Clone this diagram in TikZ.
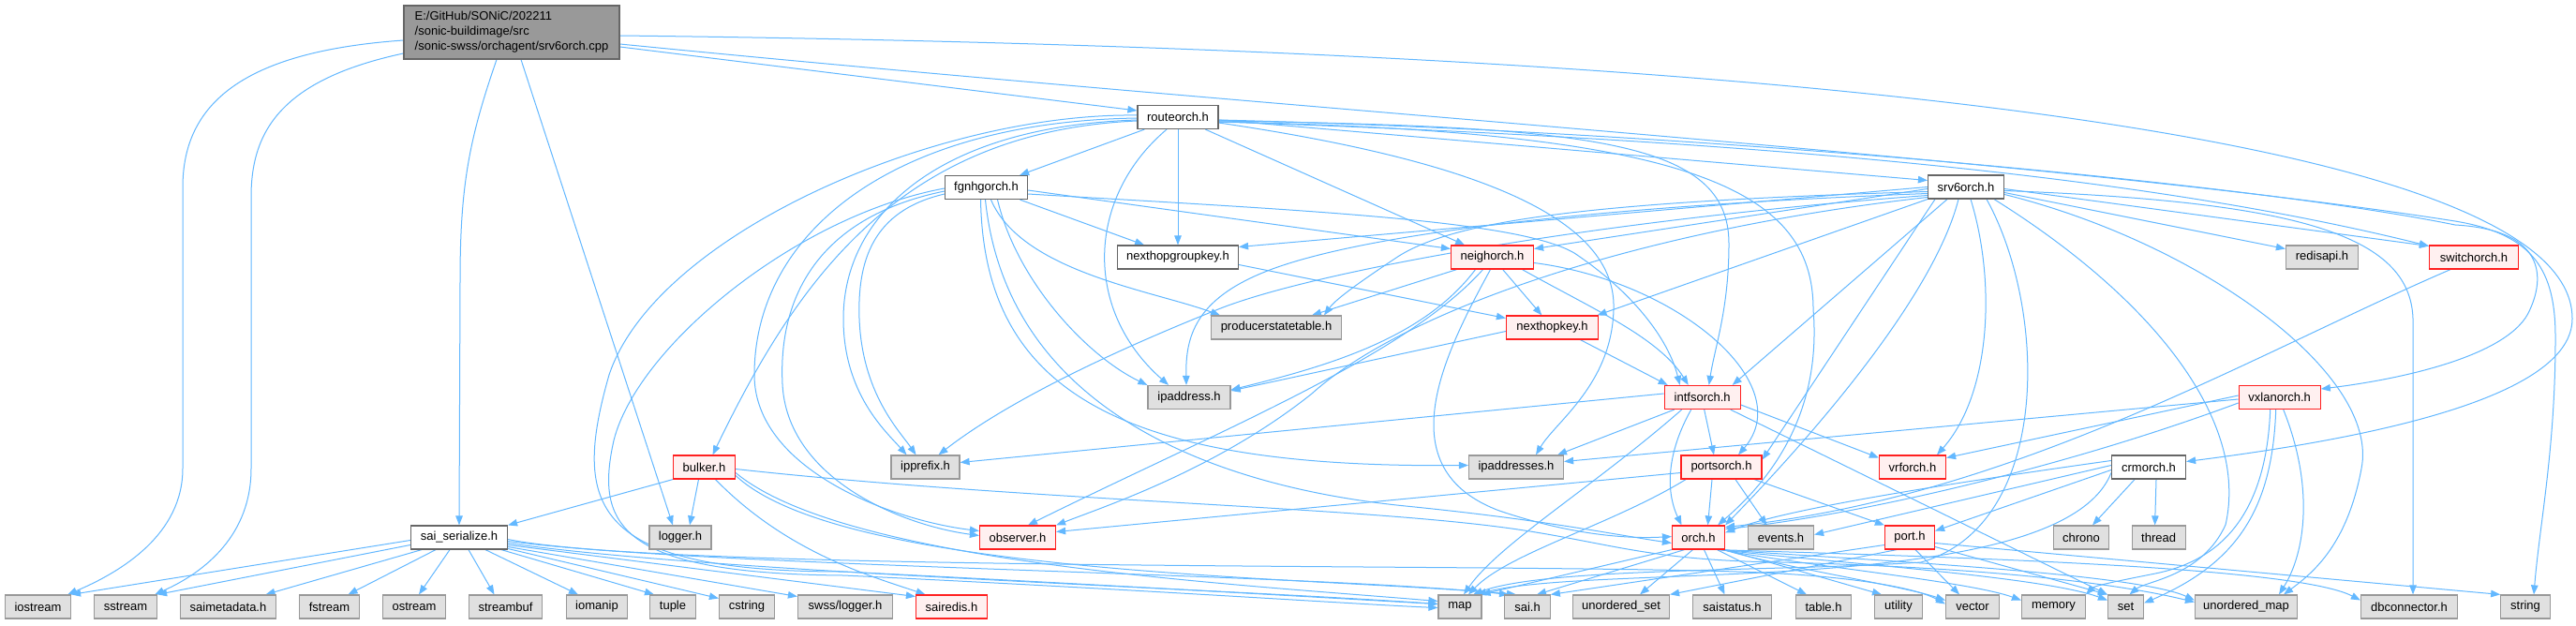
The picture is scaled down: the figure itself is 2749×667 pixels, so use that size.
\documentclass[tikz,border=0pt]{standalone}
\usepackage{fontspec}
\setmainfont{Liberation Sans}
\usetikzlibrary{arrows.meta}
\definecolor{edgec}{HTML}{63B8FF}
\definecolor{nbd}{HTML}{666666}
\definecolor{gbd}{HTML}{999999}
\definecolor{gbf}{HTML}{E0E0E0}
\definecolor{rbd}{HTML}{FF2020}
\definecolor{rbf}{HTML}{FFF0F0}
\definecolor{mbf}{HTML}{999999}
\pgfdeclarelayer{back}
\pgfdeclarelayer{bg}
\pgfsetlayers{back,bg,main}
\begin{document}
\begin{tikzpicture}[x=1pt,y=1pt,
  every node/.style={font=\fontsize{13}{16}\selectfont, inner sep=1pt, minimum height=25pt, line width=1.2pt, anchor=center},
  nbox/.style={draw=nbd, fill=white},
  gbox/.style={draw=gbd, fill=gbf},
  rbox/.style={draw=rbd, fill=rbf},
  mainbox/.style={draw=nbd, fill=mbf},
  lnk/.style={draw=edgec, line width=1pt, -{Triangle[length=10pt,width=7.5pt]}}
]
\begin{pgfonlayer}{back}
\fill[white] (0,0) rectangle (2749,-667);
\end{pgfonlayer}
\useasboundingbox (0,0) rectangle (2749,-667);

% ---------- nodes ----------
\node[mainbox, minimum width=230pt, minimum height=57pt, align=left] (mainf) at (546,-34.5) {E:/GitHub/SONiC/202211\\/sonic-buildimage/src\\/sonic-swss/orchagent/srv6orch.cpp};
\node[nbox, minimum width=86pt] (routeorch) at (1257,-125) {routeorch.h};
\node[nbox, minimum width=88pt] (fgnhg) at (1052.5,-200) {fgnhgorch.h};
\node[nbox, minimum width=81pt] (srv6) at (2098,-199.5) {srv6orch.h};
\node[nbox, minimum width=129pt] (nhgk) at (1257,-274.5) {nexthopgroupkey.h};
\node[rbox, minimum width=88pt] (neighorch) at (1592.5,-274.5) {neighorch.h};
\node[gbox, minimum width=77pt] (redisapi) at (2478,-274.5) {redisapi.h};
\node[rbox, minimum width=95pt] (switchorch) at (2640,-274.5) {switchorch.h};
\node[gbox, minimum width=139pt] (pst) at (1362,-349.5) {producerstatetable.h};
\node[rbox, minimum width=98pt] (nhk) at (1656.5,-349.5) {nexthopkey.h};
\node[gbox, minimum width=88pt] (ipaddress) at (1269,-424) {ipaddress.h};
\node[rbox, minimum width=81pt] (intfsorch) at (1816.7,-424) {intfsorch.h};
\node[rbox, minimum width=87pt] (vxlan) at (2432.7,-424) {vxlanorch.h};
\node[rbox, minimum width=66pt] (bulker) at (751.5,-498.5) {bulker.h};
\node[gbox, minimum width=73pt] (ipprefix) at (987.5,-498.5) {ipprefix.h};
\node[gbox, minimum width=101pt] (ipaddresses) at (1618,-498.5) {ipaddresses.h};
\node[rbox, minimum width=86pt] (portsorch) at (1837,-498.5) {portsorch.h};
\node[rbox, minimum width=71pt] (vrforch) at (2041,-498.5) {vrforch.h};
\node[nbox, minimum width=79pt] (crmorch) at (2293,-498.5) {crmorch.h};
\node[nbox, minimum width=103pt] (saiser) at (490,-573.5) {sai\_serialize.h};
\node[gbox, minimum width=66pt] (logger) at (726,-573.5) {logger.h};
\node[rbox, minimum width=81pt] (observer) at (1086,-573.5) {observer.h};
\node[rbox, minimum width=56pt] (orch) at (1812.5,-573.5) {orch.h};
\node[gbox, minimum width=70pt] (events) at (1900.5,-573.5) {events.h};
\node[rbox, minimum width=53pt] (port) at (2038,-573.5) {port.h};
\node[gbox, minimum width=59pt] (chrono) at (2221,-573.5) {chrono};
\node[gbox, minimum width=57pt] (thread) at (2303.6,-573.5) {thread};
\node[gbox, minimum width=70pt] (iostream) at (40.5,-647.5) {iostream};
\node[gbox, minimum width=67pt] (sstream) at (134,-647.5) {sstream};
\node[gbox, minimum width=102pt] (saimeta) at (243.5,-647.5) {saimetadata.h};
\node[gbox, minimum width=64pt] (fstream) at (351.5,-647.5) {fstream};
\node[gbox, minimum width=67pt] (ostream) at (442,-647.5) {ostream};
\node[gbox, minimum width=78pt] (streambuf) at (539.5,-647.5) {streambuf};
\node[gbox, minimum width=65pt] (iomanip) at (637,-647.5) {iomanip};
\node[gbox, minimum width=48.5pt] (tuple) at (718,-647.5) {tuple};
\node[gbox, minimum width=59pt] (cstring) at (797,-647.5) {cstring};
\node[gbox, minimum width=101pt] (swsslogger) at (902,-647.5) {swss/logger.h};
\node[rbox, minimum width=76pt] (sairedis) at (1015.5,-647.5) {sairedis.h};
\node[gbox, minimum width=46pt] (nmap) at (1558,-647.5) {map};
\node[gbox, minimum width=48.5pt] (saih) at (1630,-647.5) {sai.h};
\node[gbox, minimum width=103pt] (uset) at (1730,-647.5) {unordered\_set};
\node[gbox, minimum width=84pt] (saistatus) at (1848.5,-647.5) {saistatus.h};
\node[gbox, minimum width=59pt] (table) at (1946,-647.5) {table.h};
\node[gbox, minimum width=51pt] (utility) at (2026,-647.5) {utility};
\node[gbox, minimum width=57pt] (nvector) at (2105,-647.5) {vector};
\node[gbox, minimum width=68pt] (memory) at (2191.5,-647.5) {memory};
\node[gbox, minimum width=38pt] (nset) at (2268.5,-647.5) {set};
\node[gbox, minimum width=109pt] (umap) at (2397,-647.5) {unordered\_map};
\node[gbox, minimum width=103pt] (dbconn) at (2571,-647.5) {dbconnector.h};
\node[gbox, minimum width=52.5pt] (nstring) at (2695,-647.5) {string};

% ---------- edges ----------
\begin{pgfonlayer}{bg}
% main file
\draw[lnk] ([yshift=-8.5pt]mainf.west) .. controls (260,-55) and (195,-110) .. (195,-200) -- (195,-500) .. controls (195,-570) and (130,-610) .. ([xshift=-4pt]iostream.north east);
\draw[lnk] ([yshift=-22.5pt]mainf.west) .. controls (300,-85) and (268,-140) .. (268,-210) -- (268,-500) .. controls (268,-570) and (220,-610) .. ([xshift=-3pt]sstream.north east);
\draw[lnk] ([xshift=-16pt]mainf.south) .. controls (500,-150) and (491,-200) .. (491,-300) -- (saiser.north);
\draw[lnk] ([xshift=10pt]mainf.south) -- ([xshift=-8pt]logger.north);
\draw[lnk] ([yshift=-15.5pt]mainf.east) -- ([yshift=7pt]routeorch.west);
\draw[lnk] ([yshift=-3.5pt]mainf.east) .. controls (1700,-50) and (2745,-120) .. (2745,-340) .. controls (2745,-420) and (2550,-465) .. ([yshift=6pt]crmorch.east);
\draw[lnk] ([yshift=-12.5pt]mainf.east) .. controls (1400,-120) and (2200,-170) .. (2620,-236) .. controls (2705,-250) and (2727,-290) .. (2727,-360) .. controls (2727,-480) and (2710,-560) .. ([xshift=9pt]nstring.north);

% routeorch.h
\draw[lnk] (routeorch) -- (fgnhg);
\draw[lnk] (routeorch) -- (nhgk);
\draw[lnk] (routeorch) -- (neighorch);
\draw[lnk] ([yshift=-3pt]routeorch.east) -- ([yshift=7pt]srv6.west);
\draw[lnk] ([yshift=-5pt]routeorch.east) .. controls (1900,-150) and (2300,-190) .. ([yshift=12pt]switchorch.west);
\draw[lnk] ([yshift=-3pt]routeorch.east) .. controls (1800,-140) and (2400,-195) .. (2620,-240) .. controls (2710,-245) and (2718,-290) .. (2700,-330) .. controls (2680,-380) and (2560,-405) .. ([yshift=9pt]vxlan.east);
\draw[lnk] ([yshift=-4pt]routeorch.east) .. controls (1700,-135) and (1845,-150) .. (1845,-260) .. controls (1845,-330) and (1830,-370) .. ([xshift=7pt]intfsorch.north);
\draw[lnk] ([yshift=-5pt]routeorch.east) .. controls (1800,-140) and (1935,-200) .. (1935,-330) .. controls (1945,-450) and (1880,-520) .. ([xshift=-8pt]orch.north east);
\draw[lnk] ([xshift=-12pt]routeorch.south) .. controls (1160,-210) and (1155,-330) .. ([xshift=-22pt]ipaddress.north);
\draw[lnk] ([yshift=-6pt]routeorch.east) .. controls (1600,-175) and (1725,-240) .. (1722,-330) .. controls (1720,-410) and (1660,-450) .. ([xshift=21pt]ipaddresses.north);
\draw[lnk] ([yshift=-3pt]routeorch.west) .. controls (1000,-135) and (900,-230) .. (900,-340) .. controls (900,-420) and (945,-460) .. ([xshift=-20pt]ipprefix.north);
\draw[lnk] ([yshift=-1pt]routeorch.west) .. controls (950,-130) and (805,-250) .. (805,-400) .. controls (805,-500) and (950,-555) .. ([yshift=7pt]observer.west);
\draw[lnk] ([yshift=-4pt]routeorch.west) .. controls (960,-140) and (850,-300) .. ([xshift=9pt]bulker.north);
\draw[lnk] ([yshift=2pt]routeorch.west) .. controls (1000,-120) and (700,-250) .. (650,-400) .. controls (610,-540) and (630,-610) .. (900,-610) .. controls (1200,-625) and (1450,-640) .. ([yshift=3pt]nmap.west);

% fgnhgorch.h
\draw[lnk] (fgnhg) -- (nhgk);
\draw[lnk] ([xshift=5pt]fgnhg.south) .. controls (1090,-290) and (1230,-310) .. ([xshift=-60pt]pst.north);
\draw[lnk] ([yshift=-3pt]fgnhg.east) -- ([yshift=9pt]neighorch.west);
\draw[lnk] ([yshift=-7pt]fgnhg.east) .. controls (1400,-225) and (1620,-235) .. (1680,-270) .. controls (1740,-310) and (1780,-360) .. ([xshift=-24pt]intfsorch.north);
\draw[lnk] ([xshift=12pt]fgnhg.south) .. controls (1085,-300) and (1160,-380) .. (ipaddress.north west);
\draw[lnk] ([xshift=-6pt]fgnhg.south) .. controls (1050,-420) and (1200,-500) .. ([yshift=2pt]ipaddresses.west);
\draw[lnk] ([xshift=-1pt]fgnhg.south) .. controls (1075,-440) and (1300,-520) .. (1500,-540) .. controls (1650,-555) and (1720,-570) .. ([yshift=-6pt]orch.west);
\draw[lnk] ([yshift=-7pt]fgnhg.west) .. controls (930,-225) and (915,-280) .. (917,-340) .. controls (920,-420) and (960,-460) .. ([xshift=-10pt]ipprefix.north);
\draw[lnk] ([yshift=-4pt]fgnhg.west) .. controls (880,-230) and (830,-310) .. (835,-410) .. controls (840,-510) and (960,-560) .. ([yshift=2pt]observer.west);
\draw[lnk] ([yshift=-1pt]fgnhg.west) .. controls (850,-230) and (680,-370) .. (655,-470) .. controls (635,-560) and (660,-612) .. (900,-614) .. controls (1200,-628) and (1450,-645) .. ([yshift=-1pt]nmap.west);

% srv6orch.h
\draw[lnk] (srv6.west) -- ([yshift=11pt]nhgk.east);
\draw[lnk] ([yshift=-2pt]srv6.west) -- ([yshift=9pt]neighorch.east);
\draw[lnk] ([yshift=-5pt]srv6.west) .. controls (1700,-215) and (1550,-235) .. (1490,-275) .. controls (1445,-305) and (1425,-320) .. ([xshift=51pt]pst.north);
\draw[lnk] ([yshift=-7pt]srv6.west) .. controls (1700,-220) and (1450,-250) .. (1350,-290) .. controls (1275,-320) and (1265,-360) .. ([xshift=-3pt]ipaddress.north);
\draw[lnk] ([yshift=-9pt]srv6.west) .. controls (1700,-235) and (1400,-290) .. (1300,-330) .. controls (1150,-390) and (1060,-440) .. ([xshift=14pt]ipprefix.north);
\draw[lnk] ([yshift=-11pt]srv6.west) .. controls (1750,-245) and (1500,-330) .. (1400,-420) .. controls (1300,-500) and (1180,-540) .. (observer.north east);
\draw[lnk] (srv6.south west) -- ([xshift=48pt]nhk.north);
\draw[lnk] ([xshift=-20pt]srv6.south) -- ([xshift=32pt]intfsorch.north);
\draw[lnk] ([xshift=-33pt]srv6.south) -- ([yshift=8pt]portsorch.east);
\draw[lnk] ([xshift=-8pt]srv6.south) .. controls (2060,-330) and (1900,-500) .. (orch.north east);
\draw[lnk] ([xshift=5pt]srv6.south) .. controls (2130,-300) and (2125,-420) .. ([xshift=26pt]vrforch.north);
\draw[lnk] ([xshift=22pt]srv6.south) .. controls (2185,-330) and (2190,-560) .. (2050,-600) .. controls (1900,-610) and (1650,-605) .. ([xshift=14pt]nmap.north);
\draw[lnk] ([xshift=30pt]srv6.south) .. controls (2300,-320) and (2400,-450) .. (2375,-560) .. controls (2350,-615) and (2290,-620) .. ([xshift=4pt]nset.north);
\draw[lnk] ([yshift=-8pt]srv6.east) .. controls (2350,-260) and (2540,-400) .. (2520,-500) .. controls (2505,-580) and (2470,-610) .. ([xshift=40pt]umap.north);
\draw[lnk] ([yshift=-4pt]srv6.east) .. controls (2450,-215) and (2572,-250) .. (2575,-340) -- ([xshift=4pt]dbconn.north);
\draw[lnk] ([yshift=-6pt]srv6.east) -- ([yshift=9pt]redisapi.west);
\draw[lnk] ([yshift=-2pt]srv6.east) -- ([yshift=12pt]switchorch.west);

% neighorch.h
\draw[lnk] ([xshift=-38pt]neighorch.south) -- ([xshift=38pt]pst.north);
\draw[lnk] ([xshift=-18pt]neighorch.south) .. controls (1520,-360) and (1420,-390) .. ([yshift=8pt]ipaddress.east);
\draw[lnk] ([xshift=-10pt]neighorch.south) .. controls (1500,-380) and (1300,-460) .. ([xshift=11pt]observer.north);
\draw[lnk] ([xshift=-2pt]neighorch.south) .. controls (1540,-380) and (1480,-500) .. (1600,-545) .. controls (1680,-572) and (1740,-575) .. ([yshift=1pt]orch.west);
\draw[lnk] (neighorch) -- (nhk);
\draw[lnk] ([xshift=32pt]neighorch.south) .. controls (1700,-330) and (1770,-360) .. ([xshift=-15pt]intfsorch.north);
\draw[lnk] ([yshift=-6pt]neighorch.east) .. controls (1790,-300) and (1920,-410) .. ([xshift=18pt]portsorch.north);

% nexthopgroupkey.h, nexthopkey.h
\draw[lnk] ([yshift=-8pt]nhgk.east) -- ([yshift=10pt]nhk.west);
\draw[lnk] ([yshift=-4pt]nhk.west) -- ([yshift=7pt]ipaddress.east);
\draw[lnk] ([xshift=30pt]nhk.south) -- ([xshift=-37pt]intfsorch.north);

% intfsorch.h
\draw[lnk] ([yshift=4pt]intfsorch.west) -- ([yshift=5pt]ipprefix.east);
\draw[lnk] ([xshift=-30pt]intfsorch.south) -- ([xshift=44pt]ipaddresses.north);
\draw[lnk] ([xshift=-22pt]intfsorch.south) .. controls (1700,-520) and (1600,-580) .. ([xshift=4pt]nmap.north);
\draw[lnk] ([xshift=-12pt]intfsorch.south) .. controls (1775,-490) and (1780,-530) .. ([xshift=-18pt]orch.north);
\draw[lnk] ([xshift=2pt]intfsorch.south) -- ([xshift=-8pt]portsorch.north);
\draw[lnk] ([yshift=-8pt]intfsorch.east) -- ([yshift=10pt]vrforch.west);
\draw[lnk] ([xshift=30pt]intfsorch.south) -- (nset.north west);

% portsorch.h
\draw[lnk] ([yshift=-6pt]portsorch.west) -- ([yshift=6pt]observer.east);
\draw[lnk] ([xshift=-38pt]portsorch.south) .. controls (1720,-560) and (1610,-590) .. ([xshift=9pt]nmap.north);
\draw[lnk] ([xshift=-10pt]portsorch.south) -- ([xshift=10pt]orch.north);
\draw[lnk] ([xshift=15pt]portsorch.south) -- ([xshift=-15pt]events.north);
\draw[lnk] ([xshift=35pt]portsorch.south) -- (port.north west);

% orch.h
\draw[lnk] (orch.south west) -- ([xshift=-1pt]nmap.north east);
\draw[lnk] ([xshift=-15pt]orch.south) -- ([xshift=10pt]saih.north);
\draw[lnk] ([xshift=-6pt]orch.south) -- ([xshift=20pt]uset.north);
\draw[lnk] ([xshift=6pt]orch.south) -- ([xshift=-8pt]saistatus.north);
\draw[lnk] ([xshift=20pt]orch.south) -- ([xshift=-18pt]table.north);
\draw[lnk] (orch.south east) -- ([xshift=-18pt]utility.north);
\draw[lnk] ([xshift=-2pt]orch.south east) .. controls (1900,-605) and (2030,-625) .. ([yshift=7pt]nvector.west);
\draw[lnk] ([xshift=-4pt]orch.south east) .. controls (1920,-603) and (2100,-620) .. ([yshift=7pt]memory.west);
\draw[lnk] ([xshift=-6pt]orch.south east) .. controls (1950,-600) and (2180,-615) .. ([yshift=7pt]nset.west);
\draw[lnk] ([xshift=-7pt]orch.south east) .. controls (2000,-598) and (2280,-612) .. ([yshift=7pt]umap.west);
\draw[lnk] ([xshift=-8pt]orch.south east) .. controls (2100,-595) and (2450,-605) .. ([yshift=7pt]dbconn.west);

% port.h
\draw[lnk] ([yshift=-8pt]port.west) -- (saih.north east);
\draw[lnk] ([xshift=-14pt]port.south) -- (uset.north east);
\draw[lnk] ([xshift=6pt]port.south) -- ([xshift=-14pt]nvector.north);
\draw[lnk] ([yshift=-10pt]port.east) -- (nset.north west);
\draw[lnk] ([yshift=-6pt]port.east) -- (nstring.north west);

% crmorch.h
\draw[lnk] ([xshift=-15pt]crmorch.south) -- ([xshift=12pt]chrono.north);
\draw[lnk] ([xshift=8pt]crmorch.south) -- ([xshift=-4pt]thread.north);
\draw[lnk] ([yshift=7pt]crmorch.west) .. controls (2050,-520) and (1900,-545) .. ([yshift=5pt]orch.east);
\draw[lnk] ([yshift=2pt]crmorch.west) -- ([yshift=3pt]events.east);
\draw[lnk] ([yshift=-3pt]crmorch.west) -- ([yshift=7pt]port.east);
\draw[lnk] ([yshift=-6pt]crmorch.west) .. controls (2200,-640) and (1700,-600) .. ([xshift=18pt]nmap.north);

% vxlanorch.h
\draw[lnk] ([yshift=2pt]vxlan.west) -- ([yshift=10pt]vrforch.east);
\draw[lnk] ([yshift=-2pt]vxlan.west) -- ([yshift=6pt]ipaddresses.east);
\draw[lnk] ([yshift=-6pt]vxlan.west) .. controls (2200,-500) and (1980,-550) .. ([yshift=9pt]orch.east);
\draw[lnk] ([xshift=-4pt]vxlan.south) .. controls (2425,-540) and (2390,-600) .. ([yshift=4pt]nset.east);
\draw[lnk] ([xshift=4pt]vxlan.south) .. controls (2470,-520) and (2460,-590) .. ([xshift=35pt]umap.north);
\draw[lnk] ([xshift=-10pt]vxlan.south) .. controls (2418,-560) and (2360,-600) .. (2300,-612) .. controls (2260,-620) and (2235,-625) .. (memory.north east);

% switchorch.h
\draw[lnk] ([xshift=-25pt]switchorch.south) .. controls (2400,-380) and (2150,-530) .. ([yshift=11pt]orch.east);

% bulker.h
\draw[lnk] (bulker.south west) -- (saiser.north east);
\draw[lnk] ([xshift=-6pt]bulker.south) -- ([xshift=10pt]logger.north);
\draw[lnk] ([xshift=12pt]bulker.south) .. controls (840,-590) and (930,-615) .. ([xshift=-28pt]sairedis.north);
\draw[lnk] ([yshift=-6pt]bulker.east) .. controls (900,-600) and (1300,-622) .. ([yshift=6pt]nmap.west);
\draw[lnk] ([yshift=-9pt]bulker.east) .. controls (900,-615) and (1400,-615) .. ([xshift=-12pt]saih.north);
\draw[lnk] ([yshift=-2pt]bulker.east) .. controls (1100,-535) and (1450,-540) .. (1620,-565) .. controls (1720,-580) and (1760,-598) .. (1900,-600) .. controls (2100,-605) and (2250,-620) .. ([yshift=5pt]umap.west);

% sai_serialize.h
\draw[lnk] ([yshift=-3pt]saiser.west) -- (iostream.north east);
\draw[lnk] ([yshift=-8pt]saiser.west) -- (sstream.north east);
\draw[lnk] ([xshift=-40pt]saiser.south) -- ([xshift=40pt]saimeta.north);
\draw[lnk] ([xshift=-25pt]saiser.south) -- ([xshift=20pt]fstream.north);
\draw[lnk] ([xshift=-10pt]saiser.south) -- ([xshift=5pt]ostream.north);
\draw[lnk] ([xshift=10pt]saiser.south) -- ([xshift=-12pt]streambuf.north);
\draw[lnk] ([xshift=28pt]saiser.south) -- ([xshift=-20pt]iomanip.north);
\draw[lnk] ([xshift=45pt]saiser.south) -- ([xshift=-20pt]tuple.north);
\draw[lnk] ([yshift=-12pt]saiser.east) -- ([yshift=9pt]cstring.west);
\draw[lnk] ([yshift=-10pt]saiser.east) -- ([yshift=11pt]swsslogger.west);
\draw[lnk] ([yshift=-8pt]saiser.east) -- ([yshift=11pt]sairedis.west);
\draw[lnk] ([yshift=-6pt]saiser.east) .. controls (750,-610) and (1300,-628) .. ([yshift=3pt]nmap.west);
\draw[lnk] ([yshift=-4pt]saiser.east) .. controls (750,-605) and (1400,-612) .. ([xshift=-20pt]saih.north);
\draw[lnk] ([yshift=-2pt]saiser.east) .. controls (720,-612) and (1700,-600) .. (1900,-612) .. controls (2000,-618) and (2050,-630) .. ([yshift=3pt]nvector.west);
\end{pgfonlayer}
\end{tikzpicture}
\end{document}
